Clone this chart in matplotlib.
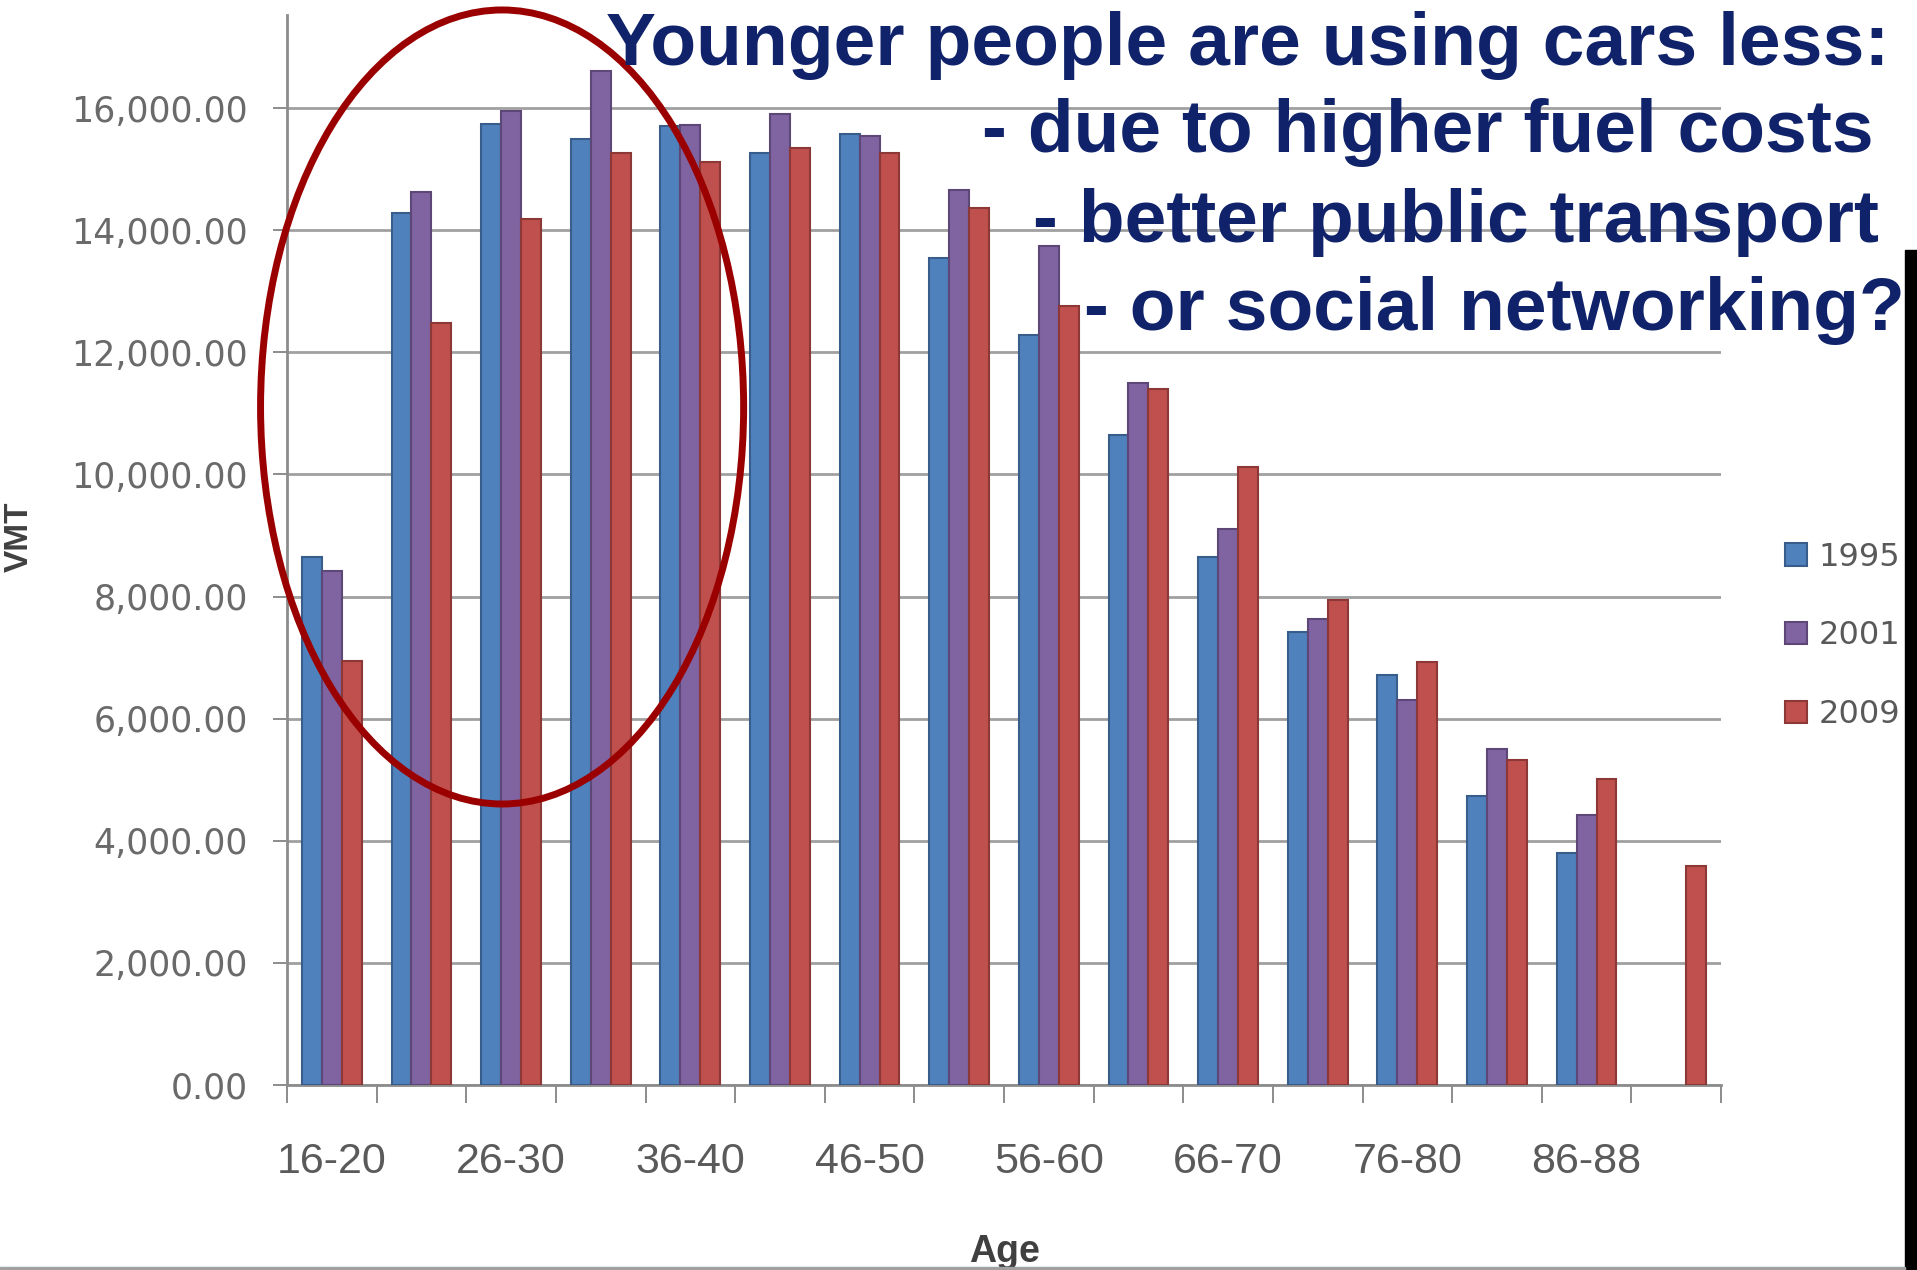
import numpy as np
import matplotlib.pyplot as plt
from matplotlib.patches import Ellipse, Rectangle

# values (VMT per driver by age group)
ages = ['16-20', '21-25', '26-30', '31-35', '36-40', '41-45', '46-50', '51-55',
        '56-60', '61-65', '66-70', '71-75', '76-80', '81-85', '86-88', '89+']
vmt_1995 = [8640, 14280, 15740, 15500, 15700, 15260, 15580, 13540,
            12280, 10640, 8640, 7420, 6720, 4740, 3800, np.nan]
vmt_2001 = [8420, 14620, 15960, 16600, 15720, 15900, 15540, 14660,
            13740, 11500, 9100, 7640, 6300, 5500, 4420, np.nan]
vmt_2009 = [6940, 12480, 14180, 15260, 15120, 15340, 15260, 14360,
            12760, 11400, 10120, 7940, 6920, 5320, 5020, 3580]
years = ['1995', '2001', '2009']
yticks = [0, 2000, 4000, 6000, 8000, 10000, 12000, 14000, 16000]

title_lines = ['Younger people are using cars less:',
               '- due to higher fuel costs',
               '- better public transport',
               '- or social networking?']

colors = ['#4f81bd', '#8064a2', '#c0504d']
edges = ['#385d8a', '#5c4776', '#8c3836']

W, H = 1917, 1270
fig = plt.figure(figsize=(W / 100, H / 100), dpi=100)
ax = fig.add_axes([287 / W, 1 - 1085 / H, (1721 - 287) / W, 1070 / H])

x = np.arange(len(ages))
bw = 0.667 / 3
handles = []
for i, vals in enumerate([vmt_1995, vmt_2001, vmt_2009]):
    b = ax.bar(x + (i - 1) * bw, vals, width=bw, color=colors[i],
               edgecolor=edges[i], linewidth=1.5, zorder=3)
    handles.append(b)

ax.set_xlim(-0.5, len(ages) - 0.5)
ax.set_ylim(0, 17525)

# axes styling, Excel 2007 look
for s in ['top', 'right']:
    ax.spines[s].set_visible(False)
for s in ['left', 'bottom']:
    ax.spines[s].set_color('#8c8c8c')
    ax.spines[s].set_linewidth(2)
ax.set_axisbelow(True)
ax.yaxis.grid(True, color='#a0a0a0', linewidth=2)

ax.set_yticks(yticks)
ax.set_yticklabels([f'{v:,.2f}' for v in yticks])
ax.tick_params(axis='y', length=10, width=1.4, color='#8c8c8c', pad=18,
               labelsize=25, labelcolor='#6a6a6a')

ax.set_xticks(x[::2])
ax.set_xticklabels(ages[::2][:8])
ax.set_xticks(np.arange(-0.5, len(ages), 1), minor=True)
ax.tick_params(axis='x', which='major', length=0, pad=41, labelsize=31,
               labelcolor='#5a5a5a')
ax.tick_params(axis='x', which='minor', length=13, width=1.4, color='#8c8c8c')
for t in ax.get_xticklabels():
    t.set_family(['Liberation Sans Narrow', 'Liberation Sans'])

fig.text(1004 / W, 1 - 1262 / H, 'Age', ha='center', va='baseline',
         fontsize=27, fontweight='bold', color='#404040', family='Liberation Sans')
fig.text(19 / W, 1 - 537 / H, 'VMT', rotation=90, ha='center', va='center',
         fontsize=24, fontweight='bold', color='#404040', family='Liberation Sans')

leg = ax.legend(handles, years, loc='center left',
                bbox_to_anchor=(1785 / W, 1 - 636 / H), bbox_transform=fig.transFigure,
                frameon=False, fontsize=23, handlelength=0.7, handleheight=0.7,
                handletextpad=0.35, labelspacing=1.5, borderpad=0, borderaxespad=0)
for t in leg.get_texts():
    t.set_color('#595959')

# red ring around the young age groups
ring = Ellipse((1.9, 11105), width=5.39, height=13005, transform=ax.transData,
               fill=False, edgecolor='#9b0000', linewidth=5, clip_on=False, zorder=6)
ax.add_patch(ring)

# slide text
rights = [1889, 1874, 1879, 1905]
bases = [65, 152, 242, 330]
for line, xr, yb in zip(title_lines, rights, bases):
    fig.text(xr / W, 1 - yb / H, line, ha='right', va='baseline', fontsize=54,
             fontweight='bold', color='#10236a', family='Liberation Sans', zorder=8)

# screenshot border bits
fig.patches.append(Rectangle((1905 / W, 0), 12 / W, 1 - 250 / H, transform=fig.transFigure,
                             color='black', zorder=10))
fig.patches.append(Rectangle((0, 0), 1905 / W, 3 / H, transform=fig.transFigure,
                             color='#a0a0a0', zorder=10))

fig.savefig('out.png', dpi=100)
